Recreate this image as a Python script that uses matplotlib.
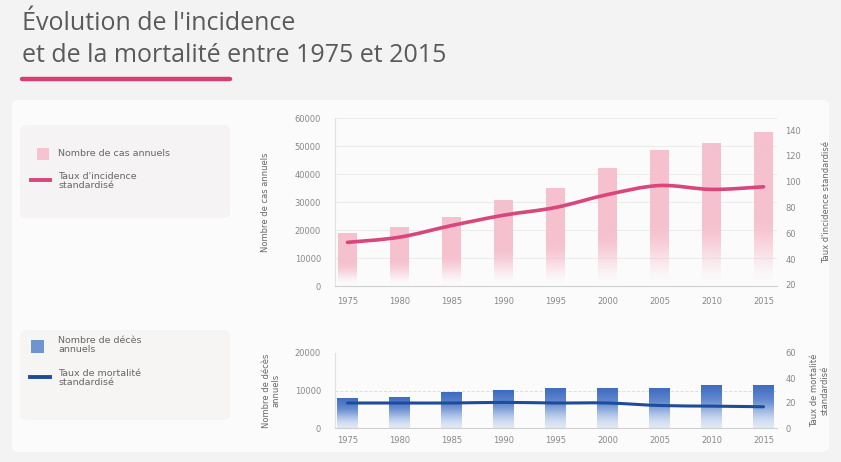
import matplotlib
matplotlib.use("Agg")
import matplotlib.pyplot as plt
import numpy as np
from matplotlib.patches import Rectangle, FancyBboxPatch, PathPatch
from matplotlib.lines import Line2D
from matplotlib.path import Path

# ---- data ----
years = [1975, 1980, 1985, 1990, 1995, 2000, 2005, 2010, 2015]
cases = [19000, 21000, 24800, 30800, 35000, 42000, 48500, 51000, 55000]
incidence = [53, 57, 66, 74, 80, 90, 97, 94, 96]
deaths = [8000, 8300, 9600, 10100, 10700, 10700, 10700, 11500, 11500]
mortality = [20, 20, 20, 20.5, 20, 20, 18, 17.5, 17]
top_left_ticks = [0, 10000, 20000, 30000, 40000, 50000, 60000]
top_right_ticks = [20, 40, 60, 80, 100, 120, 140]
bot_left_ticks = [0, 10000, 20000]
bot_right_ticks = [0, 20, 40, 60]

W, H = 841, 462
fig = plt.figure(figsize=(W / 100, H / 100), dpi=100)
fig.patch.set_facecolor("#f4f3f3")

def fx(px):
    return px / W

def fy(py):
    return 1 - py / H

# background panels (behind axes)
for (x0, y0, x1, y1, c) in [(12, 100, 829, 452, "#fbfbfb"),
                            (20, 125, 230, 218, "#f5f3f3"),
                            (20, 330, 230, 420, "#f7f5f4")]:
    p = FancyBboxPatch((fx(x0), fy(y1)), fx(x1) - fx(x0), fy(y0) - fy(y1),
                       boxstyle="round,pad=0,rounding_size=0.01",
                       transform=fig.transFigure, facecolor=c,
                       edgecolor="none", zorder=-5)
    fig.patches.append(p)

# title
fig.text(fx(22), fy(24), "Évolution de l'incidence", fontsize=18, color="#5a5a5a",
         va="center", ha="left", family="Open Sans")
fig.text(fx(22), fy(56), "et de la mortalité entre 1975 et 2015", fontsize=18,
         color="#5a5a5a", va="center", ha="left", family="Open Sans")
fig.add_artist(Line2D([fx(22), fx(230)], [fy(79), fy(79)], transform=fig.transFigure,
                      color="#d63f72", lw=3.2, solid_capstyle="round"))

tick_color = "#888888"
pink_bar = np.array([246, 190, 205]) / 255
pink_line = "#d8467b"
blue_top = np.array([50, 98, 188]) / 255
blue_bot = np.array([160, 188, 232]) / 255
blue_line = "#1d4c9a"

xl = (1973.8, 2016.3)


def gradient_bars(ax, xs, vals, width, top_rgb, bot_rgb, alpha_top, alpha_bot, start):
    n = 200
    t = np.linspace(0, 1, n)
    for x, v in zip(xs, vals):
        rgba = np.zeros((n, 1, 4))
        for k in range(3):
            rgba[:, 0, k] = top_rgb[k] * (1 - t) + bot_rgb[k] * t
        u = np.clip((t - start) / (1 - start), 0, 1)
        s = u * u * (3 - 2 * u)
        rgba[:, 0, 3] = alpha_top + (alpha_bot - alpha_top) * s
        patch = Rectangle((x - width / 2, 0), width, v, facecolor="none", edgecolor="none")
        ax.add_patch(patch)
        im = ax.imshow(rgba, extent=[x - width / 2, x + width / 2, 0, v],
                       aspect="auto", interpolation="bilinear", zorder=2)
        im.set_clip_path(patch)


def smooth_path(xs, ys):
    # Catmull-Rom spline rendered as cubic Bezier segments through the data points
    xs = np.asarray(xs, float)
    ys = np.asarray(ys, float)
    verts = [(xs[0], ys[0])]
    codes = [Path.MOVETO]
    n = len(xs)
    for i in range(n - 1):
        p0 = np.array([xs[max(i - 1, 0)], ys[max(i - 1, 0)]])
        p1 = np.array([xs[i], ys[i]])
        p2 = np.array([xs[i + 1], ys[i + 1]])
        p3 = np.array([xs[min(i + 2, n - 1)], ys[min(i + 2, n - 1)]])
        c1 = p1 + (p2 - p0) / 6.0
        c2 = p2 - (p3 - p1) / 6.0
        verts += [tuple(c1), tuple(c2), tuple(p2)]
        codes += [Path.CURVE4] * 3
    return Path(verts, codes)


def style_axes(ax, ax2):
    for s in ["top", "right"]:
        ax.spines[s].set_visible(False)
    ax.spines["left"].set_color("#e2e2e2")
    ax.spines["bottom"].set_color("#d0d0d0")
    for s in ax2.spines.values():
        s.set_visible(False)
    ax.tick_params(axis="both", length=0, labelsize=6, labelcolor=tick_color)
    ax2.tick_params(axis="both", length=0, labelsize=6, labelcolor=tick_color)
    ax.patch.set_alpha(0)
    ax2.patch.set_alpha(0)


# ---- top chart ----
axT = fig.add_axes([fx(335), fy(286), fx(777) - fx(335), fy(118) - fy(286)])
axT2 = axT.twinx()
gradient_bars(axT, years, cases, 1.8, pink_bar, pink_bar, 0.95, 0.0, 0.55)
axT.set_xlim(*xl)
axT.set_ylim(0, 60000)
axT.set_yticks(top_left_ticks)
axT.set_yticklabels([str(v) for v in top_left_ticks])
axT.set_xticks(years)
axT.set_xticklabels([str(y) for y in years])
axT.grid(axis="y", color="#ececec", lw=0.8)
axT.set_axisbelow(True)
axT2.add_patch(PathPatch(smooth_path(years, incidence), facecolor="none",
                         edgecolor=pink_line, lw=2.6, capstyle="round", joinstyle="round",
                         zorder=5))
axT2.set_ylim(19.2, 149.3)
axT2.set_yticks(top_right_ticks)
style_axes(axT, axT2)
axT.tick_params(axis="y", pad=10)
axT.tick_params(axis="x", pad=8)
axT2.tick_params(axis="y", pad=6)
axT.set_ylabel("Nombre de cas annuels", fontsize=6, color="#666666", labelpad=18)
axT2.set_ylabel("Taux d'incidence standardisé", fontsize=6, color="#666666",
                rotation=90, labelpad=15)

# ---- bottom chart ----
axB = fig.add_axes([fx(335), fy(428), fx(777) - fx(335), fy(353) - fy(428)])
axB2 = axB.twinx()
gradient_bars(axB, years, deaths, 2.0, blue_top, blue_bot, 0.95, 0.3, 0.3)
axB.set_xlim(*xl)
axB.set_ylim(0, 20000)
axB.set_yticks(bot_left_ticks)
axB.set_yticklabels([str(v) for v in bot_left_ticks])
axB.set_xticks(years)
axB.set_xticklabels([str(y) for y in years])
axB.axhline(10000, color="#f5d9b0", lw=0.7, ls=(0, (3, 2)), zorder=1)
axB2.add_patch(PathPatch(smooth_path(years, mortality), facecolor="none",
                         edgecolor=blue_line, lw=2.2, capstyle="round", joinstyle="round",
                         zorder=5))
axB2.set_ylim(0, 60)
axB2.set_yticks(bot_right_ticks)
style_axes(axB, axB2)
axB.tick_params(axis="y", pad=10)
axB.tick_params(axis="x", pad=6)
axB2.tick_params(axis="y", pad=6)
axB.set_ylabel("Nombre de décès\nannuels", fontsize=6, color="#666666", labelpad=10)
axB2.set_ylabel("Taux de mortalité\nstandardisé", fontsize=6, color="#666666",
                rotation=90, labelpad=10)

# ---- legends ----
lfs = 6.8
fig.patches.append(Rectangle((fx(37), fy(160)), fx(12), fy(148) - fy(160),
                             transform=fig.transFigure, facecolor="#f6c3d0", edgecolor="none"))
fig.text(fx(58), fy(154), "Nombre de cas annuels", fontsize=lfs, color="#666666", va="center")
fig.add_artist(Line2D([fx(31), fx(50)], [fy(180), fy(180)], transform=fig.transFigure,
                      color=pink_line, lw=2.8))
fig.text(fx(58), fy(181), "Taux d'incidence\nstandardisé", fontsize=lfs, color="#666666",
         va="center", linespacing=1.0)

fig.patches.append(Rectangle((fx(31), fy(353)), fx(13), fy(340) - fy(353),
                             transform=fig.transFigure, facecolor="#6f95cf", edgecolor="none"))
fig.text(fx(58), fy(345), "Nombre de décès\nannuels", fontsize=lfs, color="#666666",
         va="center", linespacing=1.0)
fig.add_artist(Line2D([fx(30), fx(50)], [fy(377), fy(377)], transform=fig.transFigure,
                      color=blue_line, lw=2.8))
fig.text(fx(58), fy(378), "Taux de mortalité\nstandardisé", fontsize=lfs, color="#666666",
         va="center", linespacing=1.0)

fig.savefig("out.png", dpi=100, facecolor=fig.get_facecolor())
